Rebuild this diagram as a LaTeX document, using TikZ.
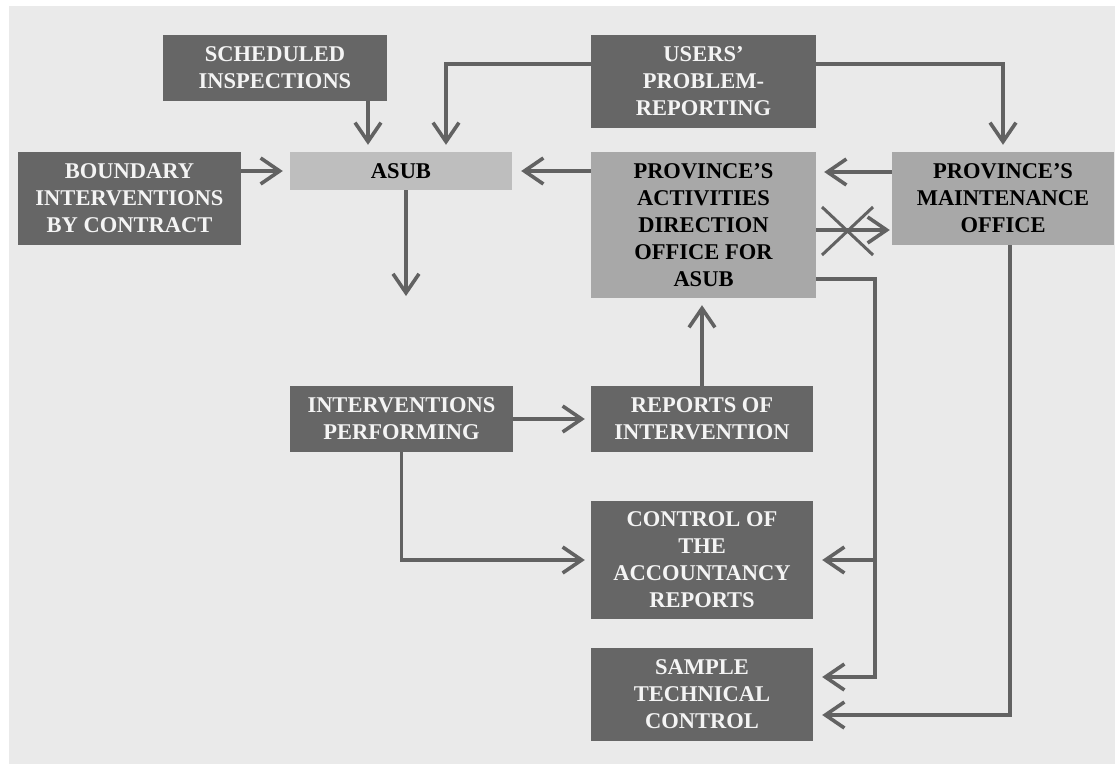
\documentclass[tikz,border=0pt]{standalone}
\usepackage{fontspec}
\setmainfont{Liberation Serif}
\usetikzlibrary{arrows.meta}
\definecolor{bgc}{HTML}{EAEAEA}
\definecolor{darkbox}{HTML}{666666}
\definecolor{lightbox}{HTML}{A8A8A8}
\definecolor{asubbox}{HTML}{BEBEBE}
\definecolor{linec}{HTML}{626262}
\definecolor{paletext}{HTML}{F4F4F4}
\begin{document}
\begin{tikzpicture}[x=1pt,y=-1pt,
  box/.style={rectangle,inner sep=0pt,align=center,
    font=\fontsize{22.5}{27}\selectfont\bfseries},
  darkb/.style={box,fill=darkbox,text=paletext},
  lightb/.style={box,fill=lightbox,text=black},
  asubb/.style={box,fill=asubbox,text=black},
  conn/.style={draw=linec,line width=3.6pt},
  arr/.style={conn,-{Straight Barb[length=19pt,width=26pt]},shorten >=7pt},
]
% page and background panel
\useasboundingbox (0,0) rectangle (1115,764);
\fill[white] (0,0) rectangle (1115,764);
\fill[bgc] (9,6) rectangle (1115,764);

% boxes
\node[darkb,minimum width=224pt,minimum height=66pt] (sched) at (275,68) {SCHEDULED\\INSPECTIONS};
\node[darkb,minimum width=225pt,minimum height=93pt] (users) at (703.5,81.5) {USERS'\\PROBLEM-\\REPORTING};
\node[darkb,minimum width=223pt,minimum height=93pt] (bound) at (129.5,198.5) {BOUNDARY\\INTERVENTIONS\\BY CONTRACT};
\node[asubb,minimum width=222pt,minimum height=38pt] (asub) at (401,171) {ASUB};
\node[lightb,minimum width=225pt,minimum height=146pt] (pado) at (703.5,225) {PROVINCE'S\\ACTIVITIES\\DIRECTION\\OFFICE FOR\\ASUB};
\node[lightb,minimum width=222pt,minimum height=93pt] (pmo) at (1003,198.5) {PROVINCE'S\\MAINTENANCE\\OFFICE};
\node[darkb,minimum width=223pt,minimum height=66pt] (ip) at (401.5,419) {INTERVENTIONS\\PERFORMING};
\node[darkb,minimum width=222pt,minimum height=66pt] (ri) at (702,419) {REPORTS OF\\INTERVENTION};
\node[darkb,minimum width=222pt,minimum height=118pt] (ctrl) at (702,560) {CONTROL OF\\THE\\ACCOUNTANCY\\REPORTS};
\node[darkb,minimum width=222pt,minimum height=93pt] (samp) at (702,694.5) {SAMPLE\\TECHNICAL\\CONTROL};

% free end of the arrow leaving ASUB
\coordinate (asubout) at (406,303);
% centre of the crossed-out link
\coordinate (xm) at (848,231);

% connectors
\draw[arr] ([xshift=93pt]sched.south) -- ([xshift=93pt]sched.south |- asub.north);
\draw[arr] ([yshift=17.5pt]users.west) -| ([xshift=45pt]asub.north);
\draw[arr] ([yshift=17.5pt]users.east) -| (pmo.north);
\draw[arr] (bound.east |- asub.west) -- (asub.west);
\draw[arr,shorten >=9pt] (pado.west |- asub.east) -- (asub.east);
\draw[arr,shorten <=0pt] (asub.south -| asubout) -- (asubout);
\draw[arr,shorten >=8pt] ([yshift=26.5pt]pmo.west) -- ([yshift=26.5pt]pmo.west -| pado.east);
\draw[arr,shorten >=2pt] ([yshift=-5pt]pado.east) -- ([yshift=-5pt]pado.east -| pmo.west);
\draw[conn,line width=3pt] ([shift={(-26pt,24pt)}]xm) -- ([shift={(25pt,-24pt)}]xm);
\draw[conn,line width=3pt] ([shift={(-26pt,-24pt)}]xm) -- ([shift={(25pt,24pt)}]xm);
\draw[arr] (ri.north) -- (ri.north |- pado.south);
\draw[arr,shorten >=6pt] (ip.east) -- (ri.west);
\draw[arr,shorten >=6pt] (ip.south) |- (ctrl.west);
\draw[arr,shorten >=9pt] ([yshift=-54pt]pado.east) -| ([xshift=62pt,yshift=17.5pt]samp.east) -- ([yshift=17.5pt]samp.east);
\draw[arr,shorten >=9pt] ([xshift=62pt]ctrl.east) -- (ctrl.east);
\draw[arr,shorten >=9pt] ([xshift=7pt]pmo.south) |- ([yshift=-20.5pt]samp.east);
\end{tikzpicture}
\end{document}
